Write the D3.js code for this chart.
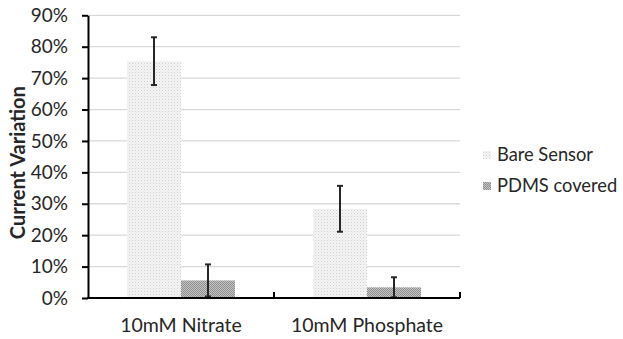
<!DOCTYPE html>
<html>
<head>
<meta charset="utf-8">
<script src="https://cdn.jsdelivr.net/npm/d3@7"></script>
<style>
  body { margin: 0; background: #fff; }
  text { font-family: Lato, "Open Sans", sans-serif; fill: #262626; }
</style>
</head>
<body>
<div id="chart-area"></div>
<script>
// data
var categories = ["10mM Nitrate", "10mM Phosphate"];
var seriesNames = ["Bare Sensor", "PDMS covered"];
var bareValues = [75.4, 28.4];
var bareErrors = [7.6, 7.3];
var pdmsValues = [5.6, 3.4];
var pdmsErrors = [5.1, 3.2];
var yTicks = [0, 10, 20, 30, 40, 50, 60, 70, 80, 90];

var svgWidth = 623, svgHeight = 339;
var margin = { top: 15.3, right: 163, bottom: 41, left: 88 };

var svg = d3.select("#chart-area").append("svg")
  .attr("width", svgWidth)
  .attr("height", svgHeight);

// fill patterns
var defs = svg.append("defs");
var dots = defs.append("pattern")
  .attr("id", "bare")
  .attr("width", 3).attr("height", 3)
  .attr("patternUnits", "userSpaceOnUse");
dots.append("rect").attr("width", 3).attr("height", 3).attr("fill", "#f4f4f4");
dots.append("rect").attr("width", 1).attr("height", 1).attr("fill", "#cfcfcf");
dots.append("rect").attr("x", 1.5).attr("y", 1.5).attr("width", 1).attr("height", 1).attr("fill", "#e0e0e0");

var check = defs.append("pattern")
  .attr("id", "pdms")
  .attr("width", 2).attr("height", 2)
  .attr("patternUnits", "userSpaceOnUse");
check.append("rect").attr("width", 2).attr("height", 2).attr("fill", "#c4c4c4");
check.append("rect").attr("width", 1).attr("height", 1).attr("fill", "#8f8f8f");
check.append("rect").attr("x", 1).attr("y", 1).attr("width", 1).attr("height", 1).attr("fill", "#8f8f8f");

var x = d3.scaleBand()
  .domain(categories)
  .range([margin.left, svgWidth - margin.right]);

var x1 = d3.scaleBand()
  .domain(seriesNames)
  .range([39, x.bandwidth() - 39]);

var y = d3.scaleLinear()
  .domain([0, 90])
  .range([svgHeight - margin.bottom, margin.top]);

// gridlines
svg.append("g")
  .selectAll("line")
  .data(yTicks.slice(1))
  .join("line")
    .attr("x1", margin.left)
    .attr("x2", svgWidth - margin.right)
    .attr("y1", d => y(d))
    .attr("y2", d => y(d))
    .attr("stroke", "#d9d9d9")
    .attr("stroke-width", 1.3);

// bars
var series = [
  { name: seriesNames[0], values: bareValues, errors: bareErrors, fill: "url(#bare)" },
  { name: seriesNames[1], values: pdmsValues, errors: pdmsErrors, fill: "url(#pdms)" }
];

series.forEach(function(s) {
  var g = svg.append("g");
  g.selectAll("rect")
    .data(categories)
    .join("rect")
      .attr("x", (d) => x(d) + x1(s.name))
      .attr("y", (d, i) => y(s.values[i]))
      .attr("width", x1.bandwidth())
      .attr("height", (d, i) => y(0) - y(s.values[i]))
      .attr("fill", s.fill);

  // error bars
  categories.forEach(function(c, i) {
    var cx = x(c) + x1(s.name) + x1.bandwidth() / 2;
    var lo = Math.max(0, s.values[i] - s.errors[i]);
    var hi = s.values[i] + s.errors[i];
    g.append("line")
      .attr("x1", cx).attr("x2", cx)
      .attr("y1", y(lo)).attr("y2", y(hi))
      .attr("stroke", "#262626").attr("stroke-width", 2);
    [lo, hi].forEach(function(v) {
      g.append("line")
        .attr("x1", cx - 3).attr("x2", cx + 3)
        .attr("y1", y(v)).attr("y2", y(v))
        .attr("stroke", "#262626").attr("stroke-width", 2);
    });
  });
});

// y axis
svg.append("g")
  .attr("transform", `translate(${margin.left},0)`)
  .call(d3.axisLeft(y)
    .tickValues(yTicks)
    .tickFormat(d => d + "%")
    .tickSize(6)
    .tickSizeOuter(0)
    .tickPadding(14))
  .call(g => g.select(".domain").attr("stroke", "#000").attr("stroke-width", 2))
  .call(g => g.selectAll(".tick line").attr("stroke", "#000").attr("stroke-width", 2))
  .call(g => g.selectAll(".tick text")
    .attr("font-size", 19)
    .attr("fill", "#262626")
    .style("font-family", "Lato, 'Open Sans', sans-serif"));

// x axis
var xAxis = svg.append("g")
  .attr("transform", `translate(0,${y(0)})`);
xAxis.append("line")
  .attr("x1", margin.left - 1).attr("x2", svgWidth - margin.right)
  .attr("stroke", "#000").attr("stroke-width", 2);
xAxis.selectAll(".sep")
  .data(categories)
  .join("line")
    .attr("class", "sep")
    .attr("x1", d => x(d) + x.bandwidth())
    .attr("x2", d => x(d) + x.bandwidth())
    .attr("y1", 0).attr("y2", -6)
    .attr("stroke", "#000").attr("stroke-width", 2);
xAxis.selectAll("text")
  .data(categories)
  .join("text")
    .attr("x", d => x(d) + x.bandwidth() / 2)
    .attr("y", 34)
    .attr("text-anchor", "middle")
    .attr("font-size", 19.5)
    .text(d => d);

// y axis title
svg.append("text")
  .attr("transform", `translate(25,${(y(0) + y(90)) / 2 + 6}) rotate(-90)`)
  .attr("text-anchor", "middle")
  .attr("font-size", 20)
  .attr("font-weight", "bold")
  .attr("fill", "#000")
  .text("Current Variation");

// legend
var legend = svg.append("g")
  .selectAll("g")
  .data(series)
  .join("g")
    .attr("transform", (d, i) => `translate(483,${155 + i * 31})`);
legend.append("rect")
  .attr("x", 0).attr("y", -4)
  .attr("width", 8).attr("height", 8)
  .attr("fill", d => d.fill);
legend.append("text")
  .attr("x", 14)
  .attr("y", 0)
  .attr("dy", "0.35em")
  .attr("font-size", 18.3)
  .text(d => d.name);
</script>
</body>
</html>
